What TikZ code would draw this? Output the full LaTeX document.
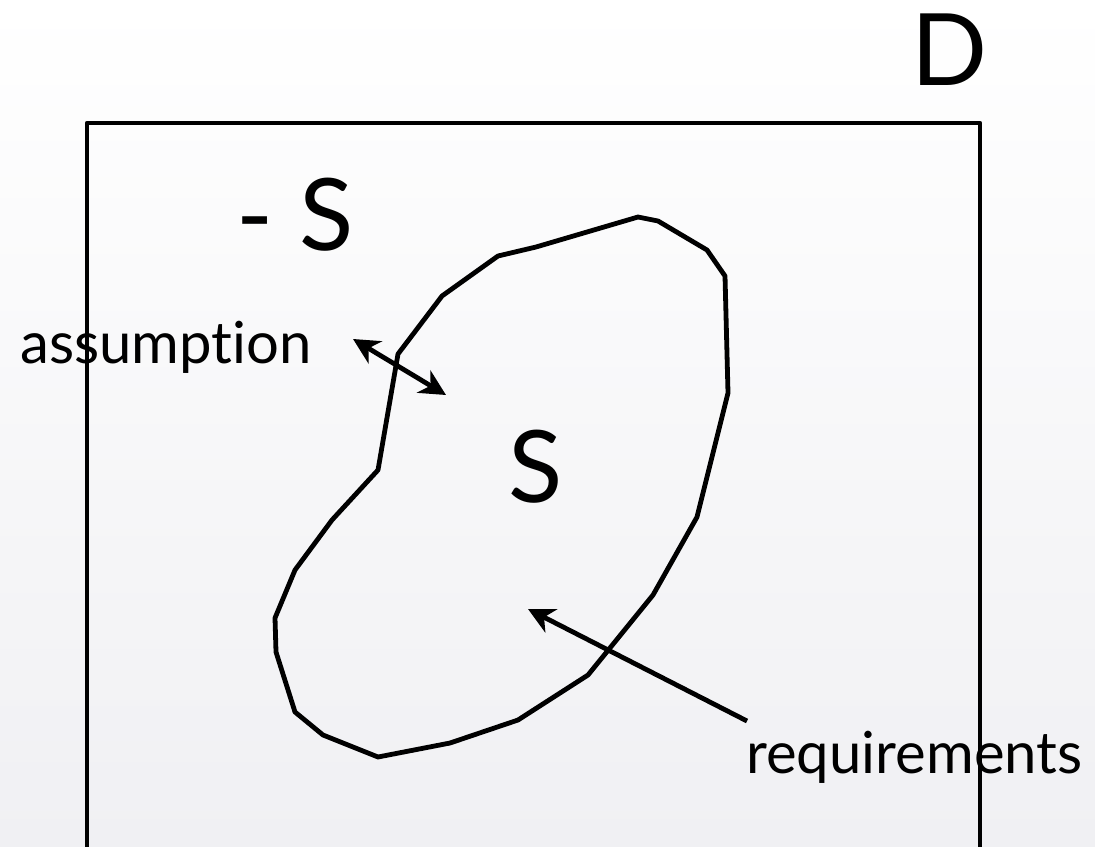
\documentclass[tikz,border=0pt]{standalone}
\usepackage{fontspec}
\setmainfont{Lato}[Ligatures={NoCommon}]
\usetikzlibrary{arrows.meta}
\begin{document}
\begin{tikzpicture}[x=0.5pt,y=-0.5pt,
  line/.style={line width=2.4pt, line join=round},
  tip/.tip={Stealth[length=13pt,width=13pt,inset=4pt]},
  arr/.style={line width=2.4pt, -tip},
  dbl/.style={line width=2.4pt, tip-tip},
  big/.style={font=\fontsize{50}{50}\selectfont, inner sep=0pt, anchor=base},
  lab/.style={font=\fontsize{29}{29}\selectfont, inner sep=0pt, anchor=base west}]
\useasboundingbox (0,0) rectangle (1095,846);
\clip (0,0) rectangle (1095,846);
\shade[top color=white, bottom color={rgb,255:red,240;green,240;blue,243}] (0,0) rectangle (1095,846);
% universe D
\draw[line] (87,870) -- (87,123) -- (980,123) -- (980,870);
\node[big] (D) at (950,85) {D};
\node[big] (notS) at (295,250) {- S};
% region S
\draw[line] (638,217) -- (658,221) -- (707,250) -- (725,276) -- (728,393)
  -- (697,517) -- (653,595) -- (588,675) -- (518,720) -- (450,743)
  -- (378,757) -- (323,735) -- (295,712) -- (276,652) -- (275,618)
  -- (295,570) -- (332,520) -- (378,470) -- (398,354) -- (442,296)
  -- (498,256) -- (536,247) -- cycle;
\node[big] (S) at (536,502) {S};
% labels
\node[lab] (ass) at (20,363) {assumption};
\node[lab] (req) at (746,773) {requirements};
\coordinate (a1) at (353,339);
\coordinate (a2) at (446,395);
\coordinate (r1) at (747,721);
\coordinate (r2) at (528,609);
\draw[dbl] (a1) -- (a2);
\draw[arr] (r1) -- (r2);
\end{tikzpicture}
\end{document}
